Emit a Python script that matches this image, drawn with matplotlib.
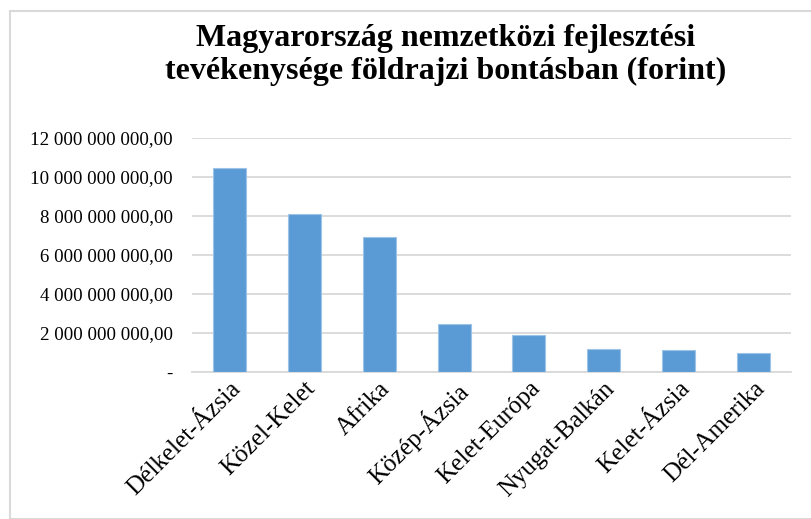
import matplotlib
matplotlib.use("Agg")
import matplotlib.pyplot as plt
from matplotlib.patches import Rectangle
from matplotlib.ticker import FuncFormatter

regions = ["Délkelet-Ázsia", "Közel-Kelet", "Afrika", "Közép-Ázsia",
           "Kelet-Európa", "Nyugat-Balkán", "Kelet-Ázsia", "Dél-Amerika"]
amounts = [10.48e9, 8.12e9, 6.91e9, 2.46e9, 1.88e9, 1.16e9, 1.11e9, 0.99e9]
yticks = [0, 2e9, 4e9, 6e9, 8e9, 10e9, 12e9]
title = "Magyarország nemzetközi fejlesztési\ntevékenysége földrajzi bontásban (forint)"

plt.rcParams['font.family'] = ['Liberation Serif', 'DejaVu Serif']


def huf(v, pos):
    if v == 0:
        return "-"
    s = f"{v:,.2f}"
    return s.replace(",", " ").replace(".", ",")


def main():
    fig = plt.figure(figsize=(8.12, 5.19), dpi=100)
    ax = fig.add_axes([192 / 812, 1 - 372 / 519, 599 / 812, 234 / 519])

    # keret a diagram körül
    fig.patches.append(Rectangle((10 / 812, 0), 1.1, 1 - 11 / 519,
                                 transform=fig.transFigure, fill=False,
                                 edgecolor='#d9d9d9', linewidth=1.5))

    x = range(len(regions))
    ax.bar(x, amounts, width=0.44, color='#5b9bd5', edgecolor='#9dc3e6',
           linewidth=0.8, zorder=3)
    ax.set_xlim(-0.5, len(regions) - 0.5)
    ax.set_ylim(0, 12e9)
    ax.set_yticks(yticks)
    ax.yaxis.set_major_formatter(FuncFormatter(huf))
    ax.grid(axis='y', color='#d9d9d9', linewidth=1.3, zorder=0)
    ax.set_xticks(list(x))
    ax.set_xticklabels(regions, rotation=45, ha='right', rotation_mode='anchor',
                       fontsize=18)
    ax.tick_params(axis='y', length=0, labelsize=13.6, colors='black', pad=14)
    ax.tick_params(axis='x', length=0, colors='black', pad=4)
    for side in ['top', 'right', 'left']:
        ax.spines[side].set_visible(False)
    ax.spines['bottom'].set_color('#d9d9d9')
    ax.spines['bottom'].set_linewidth(1.3)

    fig.text(446 / 812, 1 - 24 / 519, title, ha='center', va='top',
             fontsize=23, fontweight='bold', linespacing=1.17)

    fig.savefig('out.png', dpi=100)


if __name__ == "__main__":
    main()
